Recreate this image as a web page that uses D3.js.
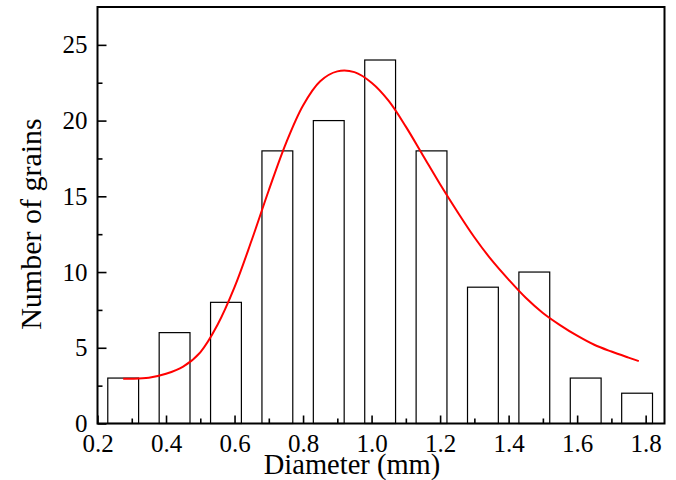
<!DOCTYPE html>
<html>
<head>
<meta charset="utf-8">
<script src="https://cdn.jsdelivr.net/npm/d3@7"></script>
<style>
  html, body { margin: 0; padding: 0; background: #fff; }
  svg { display: block; }
  text { font-family: "Liberation Serif", "DejaVu Serif", serif; fill: #000; }
</style>
</head>
<body>
<svg id="chart" width="676" height="480"></svg>
<script>
// ---- data ----
const binCenters = [0.275, 0.425, 0.575, 0.725, 0.875, 1.025, 1.175, 1.325, 1.475, 1.625, 1.775];
const counts = [3, 6, 8, 18, 20, 24, 18, 9, 10, 3, 2];
const barWidth = 0.09;
const fitX = [0.275, 0.30, 0.35, 0.40, 0.45, 0.50, 0.55, 0.60, 0.65, 0.70, 0.75, 0.80, 0.85, 0.90, 0.95, 1.00, 1.05, 1.10, 1.15, 1.20, 1.25, 1.30, 1.35, 1.40, 1.45, 1.50, 1.55, 1.60, 1.65, 1.70, 1.75, 1.78];
const fitY = [2.95, 2.95, 3.02, 3.28, 3.75, 4.7, 6.5, 9.0, 12.1, 15.4, 18.5, 21.0, 22.6, 23.25, 23.2, 22.5, 21.3, 19.6, 17.7, 15.8, 14.0, 12.3, 10.8, 9.5, 8.3, 7.3, 6.5, 5.8, 5.2, 4.75, 4.35, 4.12];
const xTicks = [0.2, 0.4, 0.6, 0.8, 1.0, 1.2, 1.4, 1.6, 1.8];
const xMinor = [0.3, 0.5, 0.7, 0.9, 1.1, 1.3, 1.5, 1.7];
const yTicks = [0, 5, 10, 15, 20, 25];
const yMinor = [2.5, 7.5, 12.5, 17.5, 22.5];
const xLabel = "Diameter (mm)";
const yLabel = "Number of grains";

// ---- layout ----
const L = 97.5, R = 664.5, T = 7, B = 423.5;
const svg = d3.select("#chart");
const x = d3.scaleLinear().domain([0.2, 1.855]).range([L, R]);
const y = d3.scaleLinear().domain([0, 27.5]).range([B, T]);

// bars
svg.append("g").selectAll("rect").data(binCenters).join("rect")
  .attr("x", (d) => x(d - barWidth / 2))
  .attr("width", (d) => x(d + barWidth / 2) - x(d - barWidth / 2))
  .attr("y", (d, i) => y(counts[i]))
  .attr("height", (d, i) => y(0) - y(counts[i]))
  .attr("fill", "#fff")
  .attr("stroke", "#000")
  .attr("stroke-width", 1.2);

// fit curve
const pts = fitX.map((d, i) => [d, fitY[i]]);
svg.append("path").datum(pts)
  .attr("fill", "none")
  .attr("stroke", "#ff0000")
  .attr("stroke-width", 2)
  .attr("d", d3.line().x(d => x(d[0])).y(d => y(d[1])).curve(d3.curveCatmullRom.alpha(0.5)));

// axes
const fs = 25;
const xAxis = d3.axisBottom(x).tickValues(xTicks).tickFormat(d3.format(".1f")).tickSizeInner(-8).tickSizeOuter(0).tickPadding(11);
const gx = svg.append("g").attr("transform", `translate(0,${B})`).call(xAxis);
gx.select(".domain").remove();
gx.selectAll(".tick line").attr("stroke", "#000").attr("stroke-width", 1.6);
gx.selectAll(".tick text").attr("font-size", fs).attr("font-family", "Liberation Serif").attr("fill", "#000");

const xAxisMinor = d3.axisBottom(x).tickValues(xMinor).tickFormat("").tickSizeInner(-5).tickSizeOuter(0);
const gxm = svg.append("g").attr("transform", `translate(0,${B})`).call(xAxisMinor);
gxm.select(".domain").remove();
gxm.selectAll(".tick line").attr("stroke", "#000").attr("stroke-width", 1.6);

const yAxis = d3.axisLeft(y).tickValues(yTicks).tickFormat(d3.format("d")).tickSizeInner(-9).tickSizeOuter(0).tickPadding(10);
const gy = svg.append("g").attr("transform", `translate(${L},0)`).call(yAxis);
gy.select(".domain").remove();
gy.selectAll(".tick line").attr("stroke", "#000").attr("stroke-width", 1.6);
gy.selectAll(".tick text").attr("font-size", fs).attr("font-family", "Liberation Serif").attr("fill", "#000");

const yAxisMinor = d3.axisLeft(y).tickValues(yMinor).tickFormat("").tickSizeInner(-5).tickSizeOuter(0);
const gym = svg.append("g").attr("transform", `translate(${L},0)`).call(yAxisMinor);
gym.select(".domain").remove();
gym.selectAll(".tick line").attr("stroke", "#000").attr("stroke-width", 1.6);

// frame
svg.append("rect")
  .attr("x", L).attr("y", T).attr("width", R - L).attr("height", B - T)
  .attr("fill", "none").attr("stroke", "#000").attr("stroke-width", 2);

// titles
svg.append("text")
  .attr("x", 352).attr("y", 474)
  .attr("text-anchor", "middle")
  .attr("font-size", 28.5)
  .text(xLabel);

svg.append("text")
  .attr("transform", "translate(41,224) rotate(-90)")
  .attr("text-anchor", "middle")
  .attr("font-size", 30)
  .text(yLabel);
</script>
</body>
</html>
